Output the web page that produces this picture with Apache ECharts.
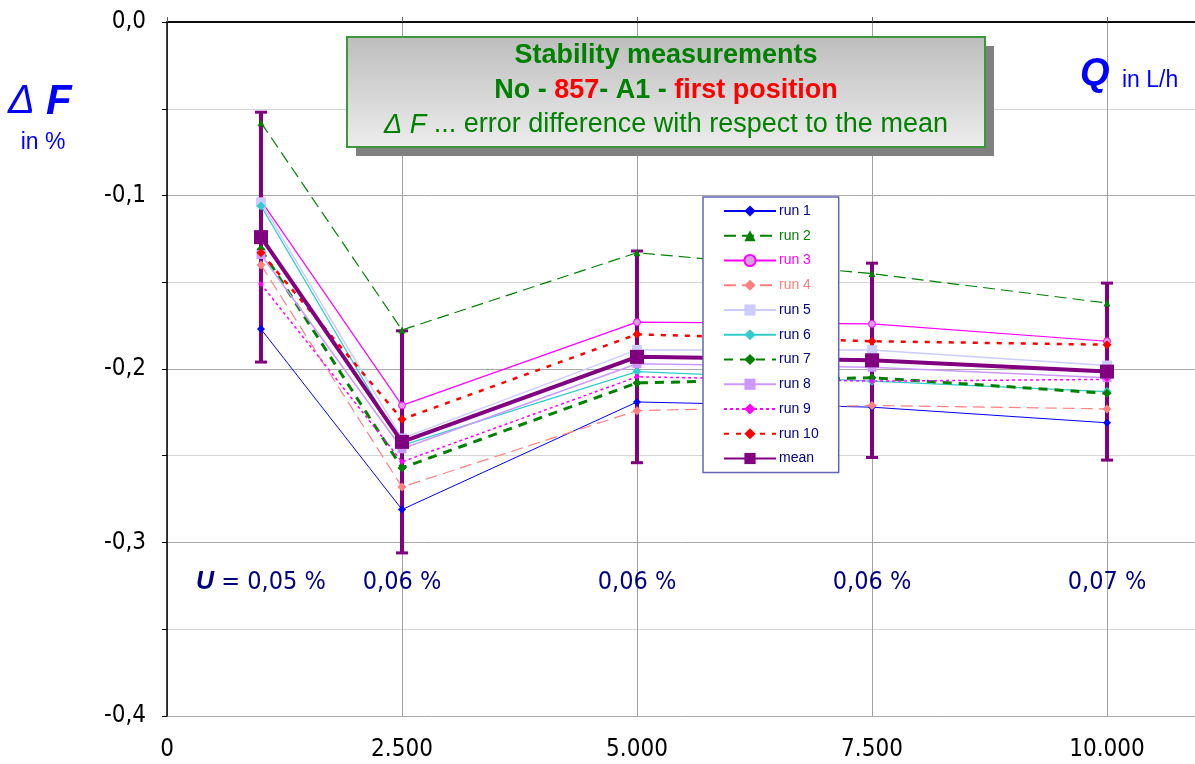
<!DOCTYPE html>
<html>
<head>
<meta charset="utf-8">
<title>Stability measurements</title>
<script src="https://cdn.jsdelivr.net/npm/echarts@6/dist/echarts.min.js"></script>
<style>
html,body{margin:0;padding:0;background:#fff;}
#chart{width:1195px;height:764px;}
</style>
</head>
<body>
<div id="chart"></div>
<script>
/* flow rate Q in L/h */
var flowRates = [1000, 2500, 5000, 7500, 10000];

/* error difference dF in % for each run */
var run1  = [-0.177, -0.281,  -0.219,  -0.222, -0.231];
var run2  = [-0.058, -0.1775, -0.133,  -0.145, -0.162];
var run3  = [-0.103, -0.221,  -0.173,  -0.174, -0.184];
var run4  = [-0.140, -0.268,  -0.224,  -0.221, -0.223];
var run5  = [-0.104, -0.240,  -0.189,  -0.189, -0.198];
var run6  = [-0.106, -0.244,  -0.2015, -0.207, -0.213];
var run7  = [-0.131, -0.257,  -0.208,  -0.205, -0.214];
var run8  = [-0.134, -0.246,  -0.197,  -0.199, -0.205];
var run9  = [-0.151, -0.2535, -0.2045, -0.207, -0.206];
var run10 = [-0.133, -0.229,  -0.180,  -0.184, -0.186];
var meanValues = [-0.124, -0.242, -0.193, -0.195, -0.2015];

/* half length of the error bars on the mean */
var errHalf = [0.072, 0.064, 0.061, 0.056, 0.051];

/* expanded uncertainty U in % */
var uncertainty = ['0,05', '0,06', '0,06', '0,06', '0,07'];

var narrowFont = "'DejaVu Sans Condensed', 'Liberation Sans', sans-serif";
var mainFont = "'Liberation Sans', Arial, sans-serif";

function toPairs(values) {
    return values.map(function (v, i) { return [flowRates[i], v]; });
}

function runSeries(name, values, color, lineType, width, symbol, symbolSize, fill) {
    return {
        name: name,
        type: 'line',
        data: toPairs(values),
        symbol: symbol,
        symbolSize: symbolSize,
        lineStyle: {color: color, width: width, type: lineType},
        itemStyle: {color: fill || color, borderColor: color, borderWidth: fill ? 1 : 0},
        emphasis: {disabled: true},
        z: 3
    };
}

var chart = echarts.init(document.getElementById('chart'));

var series = [
    {
        name: 'errorbar',
        type: 'custom',
        data: flowRates.map(function (x, i) {
            return [x, meanValues[i] - errHalf[i], meanValues[i] + errHalf[i]];
        }),
        renderItem: function (params, api) {
            var x = api.value(0);
            var lo = api.coord([x, api.value(1)]);
            var hi = api.coord([x, api.value(2)]);
            var w = 6;
            var cap = {stroke: '#800080', lineWidth: 3};
            return {
                type: 'group',
                children: [
                    {type: 'line', shape: {x1: lo[0], y1: lo[1], x2: hi[0], y2: hi[1]}, style: {stroke: '#800080', lineWidth: 4}},
                    {type: 'line', shape: {x1: lo[0] - w, y1: lo[1], x2: lo[0] + w, y2: lo[1]}, style: cap},
                    {type: 'line', shape: {x1: hi[0] - w, y1: hi[1], x2: hi[0] + w, y2: hi[1]}, style: cap}
                ]
            };
        },
        z: 2
    },
    runSeries('run 1', run1, '#0000ff', 'solid', 1, 'diamond', 8),
    runSeries('run 2', run2, '#008000', [12, 6], 1.2, 'triangle', 7),
    runSeries('run 3', run3, '#ff00ff', 'solid', 1.2, 'circle', 7, '#d9a0e0'),
    runSeries('run 4', run4, '#ff8080', [12, 6], 1.2, 'diamond', 9),
    runSeries('run 5', run5, '#ccccff', 'solid', 1.5, 'rect', 10),
    runSeries('run 6', run6, '#33cccc', 'solid', 1.2, 'diamond', 9),
    runSeries('run 7', run7, '#008000', [9, 7], 3, 'diamond', 9),
    runSeries('run 8', run8, '#cc99ff', 'solid', 1.5, 'rect', 9),
    runSeries('run 9', run9, '#ff00ff', [3, 3], 1.5, 'diamond', 6),
    runSeries('run 10', run10, '#ff0000', [5, 7], 2.5, 'diamond', 9),
    {
        name: 'mean',
        type: 'line',
        data: toPairs(meanValues),
        symbol: 'rect',
        symbolSize: 14,
        lineStyle: {color: '#800080', width: 4},
        itemStyle: {color: '#800080'},
        emphasis: {disabled: true},
        z: 4
    },
    {
        name: 'U',
        type: 'custom',
        data: flowRates.map(function (x, i) { return [x, i]; }),
        renderItem: function (params, api) {
            var i = api.value(1);
            var p = api.coord([api.value(0), -0.323]);
            var txt = i === 0 ? '{u|U}{t| = ' + uncertainty[i] + ' %}' : '{t|' + uncertainty[i] + ' %}';
            return {
                type: 'text',
                x: p[0],
                y: p[1],
                style: {
                    text: txt,
                    align: 'center',
                    verticalAlign: 'middle',
                    rich: {
                        u: {font: 'italic bold 25px ' + mainFont, fill: '#000080'},
                        t: {font: '25px ' + narrowFont, fill: '#000080'}
                    }
                }
            };
        },
        z: 5
    }
];

var legendColors = {'run 2': '#008000', 'run 3': '#ff00ff', 'run 4': '#ff8080'};
var legendNames = ['run 1', 'run 2', 'run 3', 'run 4', 'run 5', 'run 6', 'run 7', 'run 8', 'run 9', 'run 10', 'mean'];

var option = {
    backgroundColor: '#ffffff',
    animation: false,
    grid: {left: 167, top: 22, width: 1034, height: 694, outerBoundsMode: 'none'},
    xAxis: [
        {
            type: 'value',
            min: 0,
            max: 11000,
            interval: 2500,
            position: 'bottom',
            axisLine: {show: true, lineStyle: {color: '#000', width: 1.5}},
            axisTick: {show: false},
            axisLabel: {
                margin: 22,
                color: '#000',
                fontSize: 24,
                fontFamily: narrowFont,
                formatter: function (v) {
                    if (v > 10000) return '';
                    return String(v).replace(/\B(?=(\d{3})+(?!\d))/g, '.');
                }
            },
            splitLine: {show: true, lineStyle: {color: '#a0a0a0', width: 1}}
        },
        {
            type: 'value',
            min: 0,
            max: 11000,
            interval: 2500,
            position: 'top',
            axisLine: {show: true, lineStyle: {color: '#000', width: 1.5}},
            axisTick: {show: true, length: 5, lineStyle: {color: '#606060'}},
            axisLabel: {show: false},
            splitLine: {show: false}
        }
    ],
    yAxis: {
        type: 'value',
        min: -0.4,
        max: 0,
        interval: 0.1,
        axisLine: {show: true, lineStyle: {color: '#000', width: 1.5}},
        axisTick: {show: true, length: 5, lineStyle: {color: '#000'}},
        minorTick: {show: true, splitNumber: 2, length: 5, lineStyle: {color: '#000'}},
        axisLabel: {
            margin: 21,
            color: '#000',
            fontSize: 24,
            fontFamily: narrowFont,
            formatter: function (v) { return v.toFixed(1).replace('.', ','); }
        },
        splitLine: {show: true, lineStyle: {color: '#a8a8a8', width: 1}},
        minorSplitLine: {show: true, lineStyle: {color: '#d4d4d4', width: 1}}
    },
    legend: {
        orient: 'vertical',
        left: 703,
        top: 197,
        z: 20,
        padding: [7, 20, 7, 20],
        itemWidth: 52,
        itemHeight: 14,
        itemGap: 10.75,
        backgroundColor: '#ffffff',
        borderColor: '#6464b4',
        borderWidth: 1.5,
        borderRadius: 0,
        selectedMode: false,
        textStyle: {color: '#000080', fontSize: 14, fontFamily: mainFont, padding: [0, 0, 0, -2]},
        data: legendNames.map(function (n) {
            return legendColors[n] ? {name: n, textStyle: {color: legendColors[n]}} : {name: n};
        })
    },
    graphic: [
        {type: 'rect', shape: {x: 356, y: 46, width: 638, height: 110}, style: {fill: '#808080'}, z: 10},
        {
            type: 'rect',
            shape: {x: 347, y: 37, width: 638, height: 110},
            style: {
                fill: new echarts.graphic.LinearGradient(0, 0, 0, 1, [
                    {offset: 0, color: '#bdbdbd'},
                    {offset: 1, color: '#ededed'}
                ]),
                stroke: '#3a9a3a',
                lineWidth: 2
            },
            z: 11
        },
        {
            type: 'text', x: 666, y: 56, z: 12,
            style: {text: 'Stability measurements', font: 'bold 27px ' + mainFont, fill: '#008000', align: 'center', verticalAlign: 'middle'}
        },
        {
            type: 'text', x: 666, y: 91, z: 12,
            style: {
                text: '{g|No - }{r|857}{g|- A1 - }{r|first position}',
                align: 'center', verticalAlign: 'middle',
                rich: {
                    g: {font: 'bold 27px ' + mainFont, fill: '#008000'},
                    r: {font: 'bold 27px ' + mainFont, fill: '#ff0000'}
                }
            }
        },
        {
            type: 'text', x: 666, y: 125, z: 12,
            style: {
                text: '{i|\u0394 F}{n| ... error difference with respect to the mean}',
                align: 'center', verticalAlign: 'middle',
                rich: {
                    i: {font: 'italic 27px ' + mainFont, fill: '#008000'},
                    n: {font: '27px ' + mainFont, fill: '#008000'}
                }
            }
        },
        {
            type: 'text', x: 8, y: 102, z: 12,
            style: {
                text: '{d|\u0394 }{f|F}',
                verticalAlign: 'middle',
                rich: {
                    d: {font: 'italic 40px ' + mainFont, fill: '#0000ff'},
                    f: {font: 'italic bold 42px ' + mainFont, fill: '#0000ff'}
                }
            }
        },
        {
            type: 'text', x: 43, y: 143, z: 12,
            style: {text: 'in %', font: '23px ' + mainFont, fill: '#0000ff', align: 'center', verticalAlign: 'middle'}
        },
        {
            type: 'text', x: 1080, y: 75, z: 12,
            style: {text: 'Q', font: 'italic bold 38px ' + mainFont, fill: '#0000ff', verticalAlign: 'middle'}
        },
        {
            type: 'text', x: 1122, y: 81, z: 12,
            style: {text: 'in L/h', font: '23px ' + mainFont, fill: '#0000ff', verticalAlign: 'middle'}
        }
    ],
    series: series
};

chart.setOption(option);
</script>
</body>
</html>
